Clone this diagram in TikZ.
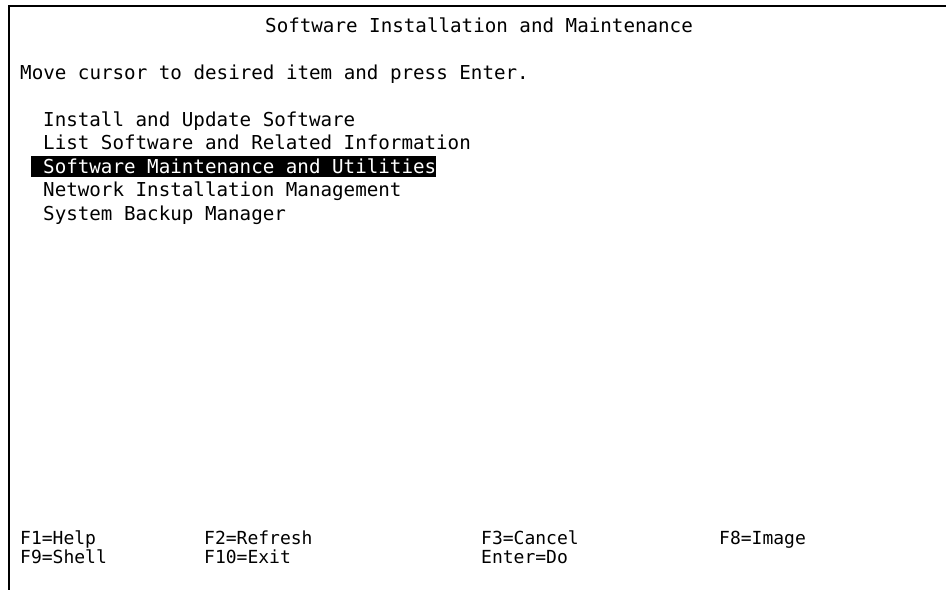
\documentclass[tikz,border=0pt]{standalone}
\usepackage{fontspec}
\setmonofont{DejaVu Sans Mono}
\usetikzlibrary{backgrounds}
\tikzset{
	term/.style={font=\ttfamily\fontsize{19.2}{21}\selectfont, anchor=base west, inner sep=0pt},
	keylabel/.style={term, font=\ttfamily\fontsize{18}{21}\selectfont},
	picked/.style={term, text=white, text height=17pt, text depth=3.5pt}
}
\begin{document}
\begin{tikzpicture}[x=1pt, y=-1pt]
	\useasboundingbox (0, 0) rectangle (946, 590);
	% frame
	\draw[line width=1.5pt] (946, 6) -- (9, 6) -- (9, 590);

	\node[term] (title) at (265, 32) {Software Installation and Maintenance};
	\node[term] (prompt) at (20, 79) {Move cursor to desired item and press Enter.};

	\node[term] (install) at (43, 126) {Install and Update Software};
	\node[term] (list) at (43, 149.5) {List Software and Related Information};
	\node[picked] (maint) at (43, 173) {Software Maintenance and Utilities};
	\node[term] (nim) at (43, 196.5) {Network Installation Management};
	\node[term] (backup) at (43, 220) {System Backup Manager};

	% function keys
	\node[keylabel] (help) at (20, 544) {F1=Help};
	\node[keylabel] (refresh) at (204, 544) {F2=Refresh};
	\node[keylabel] (cancel) at (481, 544) {F3=Cancel};
	\node[keylabel] (image) at (719, 544) {F8=Image};
	\node[keylabel] (shell) at (20, 563) {F9=Shell};
	\node[keylabel] (exit) at (204, 563) {F10=Exit};
	\node[keylabel] (enter) at (481, 563) {Enter=Do};

	\begin{scope}[on background layer]
		\fill[white] (0, 0) rectangle (946, 590);
		\fill[black] ([xshift=-11.55pt]maint.north west) rectangle (maint.south east);
	\end{scope}
\end{tikzpicture}
\end{document}
